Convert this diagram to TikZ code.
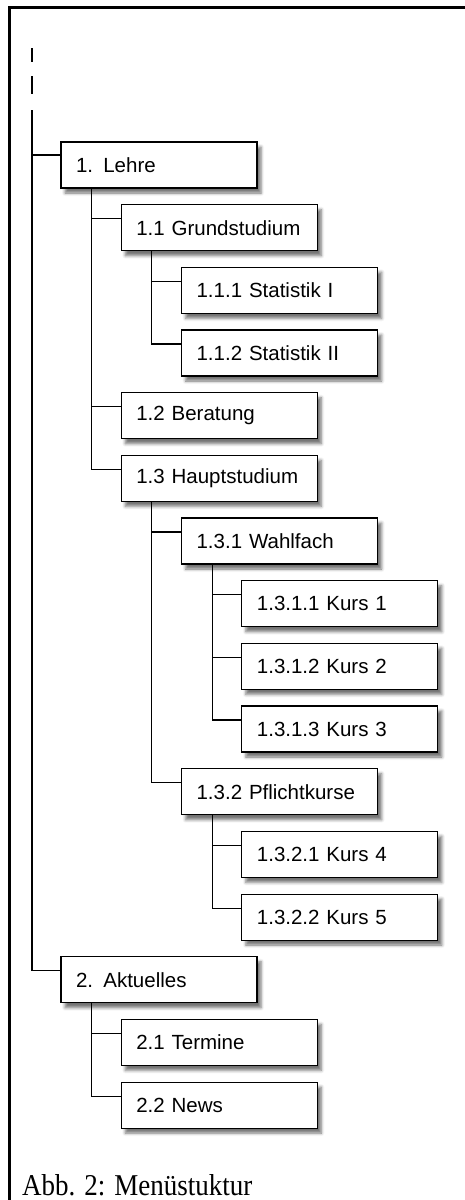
\documentclass[tikz,border=0pt]{standalone}
\usepackage{fontspec}
\setmainfont{Liberation Serif}
\setsansfont{Liberation Sans}
\usepackage{tikz}
\usetikzlibrary{positioning, calc, shadows.blur}
% drop from parent box to child box
\newcommand{\branch}[2]{\draw[link] ($(#1.south west)+(30.5pt,0)$) |- ($(#2.north west)+(0,-14pt)$);}

\begin{document}
\begin{tikzpicture}[
  x=1pt, y=-1pt,
  menu/.style={draw, line width=1.1pt, fill=white, anchor=north west,
               outer sep=0pt, text width=166pt, inner xsep=15pt, inner ysep=0pt,
               minimum height=46pt, align=left,
               font=\sffamily\fontsize{20.5}{25}\selectfont,
               blur shadow={shadow xshift=4pt, shadow yshift=-5pt,
                            shadow blur radius=3pt, shadow opacity=55}},
  nextrow/.style={below=16.67pt of #1.south west, anchor=north west},
  link/.style={line width=1.1pt},
  frame/.style={line width=3pt}
]
\useasboundingbox (0,0) rectangle (465,1200);
\draw[frame] (9.5,1200) |- (465,7.5);

% menu entries, one row each
\node[menu] (lehre) at (61,142) {1. Lehre};
\node[menu, nextrow=lehre, xshift=60.3pt] (grund) {1.1 Grundstudium};
\node[menu, nextrow=grund, xshift=60.3pt] (stat1) {1.1.1 Statistik I};
\node[menu, nextrow=stat1] (stat2) {1.1.2 Statistik II};
\node[menu, nextrow=stat2, xshift=-60.3pt] (berat) {1.2 Beratung};
\node[menu, nextrow=berat] (haupt) {1.3 Hauptstudium};
\node[menu, nextrow=haupt, xshift=60.3pt] (wahl) {1.3.1 Wahlfach};
\node[menu, nextrow=wahl, xshift=60.3pt] (kurs1) {1.3.1.1 Kurs 1};
\node[menu, nextrow=kurs1] (kurs2) {1.3.1.2 Kurs 2};
\node[menu, nextrow=kurs2] (kurs3) {1.3.1.3 Kurs 3};
\node[menu, nextrow=kurs3, xshift=-60.3pt] (pflicht) {1.3.2 Pflichtkurse};
\node[menu, nextrow=pflicht, xshift=60.3pt] (kurs4) {1.3.2.1 Kurs 4};
\node[menu, nextrow=kurs4] (kurs5) {1.3.2.2 Kurs 5};
\node[menu, nextrow=kurs5, xshift=-180.9pt] (aktuell) {2. Aktuelles};
\node[menu, nextrow=aktuell, xshift=60.3pt] (termine) {2.1 Termine};
\node[menu, nextrow=termine] (news) {2.2 News};

% trunk, dashed at its top end
\coordinate (top) at (32,48);
\coordinate (trunk) at (32,110);
\draw[link, dash pattern=on 14pt off 14pt on 18pt off 16pt] (top) -- (trunk);
\draw[link] (trunk) |- ($(lehre.north west)+(0,-13pt)$);
\draw[link] (trunk) |- ($(aktuell.north west)+(0,-14pt)$);

\branch{lehre}{grund}
\branch{lehre}{berat}
\branch{lehre}{haupt}
\branch{grund}{stat1}
\branch{grund}{stat2}
\branch{haupt}{wahl}
\branch{haupt}{pflicht}
\branch{wahl}{kurs1}
\branch{wahl}{kurs2}
\branch{wahl}{kurs3}
\branch{pflicht}{kurs4}
\branch{pflicht}{kurs5}
\branch{aktuell}{termine}
\branch{aktuell}{news}

\node[anchor=base west, inner sep=0pt, font=\fontsize{27}{32}\selectfont]
  (caption) at (22,1195) {\scalebox{1}[1.12]{Abb. 2: Menüstuktur}};
\end{tikzpicture}
\end{document}
